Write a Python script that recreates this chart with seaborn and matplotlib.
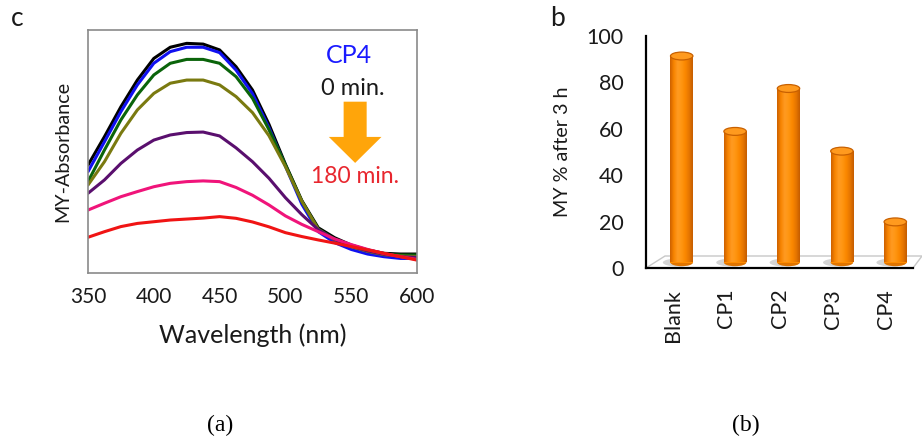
import numpy as np
import pandas as pd
import matplotlib
matplotlib.use("Agg")
import matplotlib.pyplot as plt
import matplotlib.transforms as mtransforms
from matplotlib.patches import Ellipse, Polygon, FancyArrow
from matplotlib.colors import LinearSegmentedColormap
import seaborn as sns

# ---------------- data ----------------
wavelength = [350, 362.5, 375, 387.5, 400, 412.5, 425, 437.5, 450, 462.5, 475,
              487.5, 500, 512.5, 525, 537.5, 550, 562.5, 575, 587.5, 600]
abs_0min = [0.444, 0.561, 0.684, 0.794, 0.883, 0.929, 0.945, 0.942, 0.918, 0.849, 0.753,
            0.612, 0.448, 0.298, 0.186, 0.145, 0.115, 0.095, 0.081, 0.078, 0.078]
abs_t2 = [0.417, 0.540, 0.664, 0.774, 0.863, 0.911, 0.929, 0.929, 0.907, 0.835, 0.738,
          0.598, 0.440, 0.283, 0.170, 0.125, 0.097, 0.078, 0.067, 0.060, 0.060]
abs_t3 = [0.376, 0.506, 0.630, 0.733, 0.815, 0.863, 0.879, 0.879, 0.863, 0.808, 0.719,
          0.590, 0.445, 0.295, 0.181, 0.139, 0.111, 0.092, 0.078, 0.074, 0.074]
abs_t4 = [0.362, 0.458, 0.575, 0.671, 0.739, 0.781, 0.794, 0.794, 0.774, 0.726, 0.660,
          0.565, 0.438, 0.295, 0.179, 0.136, 0.108, 0.089, 0.075, 0.070, 0.067]
abs_t5 = [0.328, 0.383, 0.451, 0.506, 0.547, 0.568, 0.578, 0.580, 0.564, 0.515, 0.458,
          0.390, 0.310, 0.240, 0.178, 0.138, 0.110, 0.091, 0.077, 0.067, 0.064]
abs_t6 = [0.259, 0.287, 0.314, 0.335, 0.355, 0.369, 0.376, 0.379, 0.376, 0.352, 0.320,
          0.280, 0.235, 0.200, 0.170, 0.140, 0.117, 0.097, 0.080, 0.067, 0.056]
abs_180min = [0.147, 0.170, 0.191, 0.204, 0.211, 0.218, 0.222, 0.226, 0.232, 0.225, 0.210,
              0.190, 0.166, 0.150, 0.136, 0.123, 0.109, 0.095, 0.081, 0.067, 0.053]
series_names = ["0 min", "t2", "t3", "t4", "t5", "t6", "180 min"]
series_values = [abs_0min, abs_t2, abs_t3, abs_t4, abs_t5, abs_t6, abs_180min]
series_colors = ["#000000", "#1010f0", "#0a640a", "#7a7a10", "#5a0f6e", "#f0147a", "#f01414"]

categories = ["Blank", "CP1", "CP2", "CP3", "CP4"]
my_percent = [89, 56.5, 75, 48, 17.5]

# ---------------- figure ----------------
W, H = 922, 446
fig = plt.figure(figsize=(W / 100, H / 100), dpi=100)
sns.set_style("white")
plt.rcParams["font.family"] = ["Lato", "DejaVu Sans"]

def rect(x0, y0, x1, y1):
    return [x0 / W, 1 - y1 / H, (x1 - x0) / W, (y1 - y0) / H]

# ---------------- left panel: spectra ----------------
ax1 = fig.add_axes(rect(88, 30, 417, 273))
df = pd.DataFrame({
    "Wavelength": np.tile(wavelength, len(series_names)),
    "Absorbance": np.concatenate(series_values),
    "Time": np.repeat(series_names, len(wavelength)),
})
sns.lineplot(data=df, x="Wavelength", y="Absorbance", hue="Time",
             hue_order=series_names, palette=series_colors, linewidth=2.2,
             legend=False, ax=ax1)
for ln in ax1.lines:
    ln.set_solid_joinstyle("round")
    ln.set_solid_capstyle("round")
ax1.set_xlim(350, 600)
ax1.set_ylim(0, 1)
ax1.set_xticks([350, 400, 450, 500, 550, 600])
ax1.set_xticks([375, 425, 475, 525, 575], minor=True)
ax1.set_yticks([])
ax1.tick_params(axis="x", which="both", direction="out", length=5, width=1,
                color="#808080", labelsize=15, labelcolor="#1a1a1a", pad=5)
for s in ax1.spines.values():
    s.set_color("#8a8a8a")
    s.set_linewidth(1.2)
ax1.set_xlabel("Wavelength (nm)", fontsize=18, color="#1a1a1a", labelpad=12)
ax1.set_ylabel("MY-Absorbance", fontsize=14.2, color="#1a1a1a", labelpad=12)

ax1.text(548, 0.897, "CP4", color="#1a1aff", fontsize=18, ha="center", va="center")
ax1.text(551, 0.761, "0 min.", color="#1a1a1a", fontsize=17, ha="center", va="center")
ax1.text(553, 0.399, "180 min.", color="#e8262e", fontsize=16.5, ha="center", va="center")
ax1.add_patch(FancyArrow(553, 0.705, 0, -0.252, width=17.5, head_width=40,
                         head_length=0.107, length_includes_head=True,
                         color="#ffa50a", lw=0))

# ---------------- right panel: cylinder bars ----------------
ax2 = fig.add_axes(rect(646, 36, 913, 268))
sns.barplot(x=categories, y=my_percent, color="#ff8c00", width=0.42, ax=ax2,
            saturation=1)
ax2.set_xlim(-0.5, 4.5)
ax2.set_ylim(0, 100)

# floor of the 3-D chart (axes-fraction decoration)
floor = Polygon([(0, 0), (19 / 267, 12 / 232), (1 + 9 / 267, 12 / 232), (1, 0)],
                closed=True, transform=ax2.transAxes, facecolor="white",
                edgecolor="#c8c8c8", lw=1.0, clip_on=False, zorder=0.5)
ax2.add_patch(floor)

shift = mtransforms.ScaledTranslation(9 / 100, 5.5 / 100, fig.dpi_scale_trans)
tr = ax2.transData + shift
cyl = LinearSegmentedColormap.from_list(
    "cyl", ["#cc6000", "#f88400", "#ff9a22", "#ff9612", "#fb8800", "#e67600", "#c45c00"])
grad = np.linspace(0, 1, 128)[None, :]
bars = [p for p in ax2.patches if p is not floor]
for p in bars:
    x0, w, h = p.get_x(), p.get_width(), p.get_height()
    p.set_transform(tr)
    p.set_zorder(2)
    p.set_edgecolor("none")
    # floor shadow
    ax2.add_patch(Ellipse((x0 + w / 2 - 0.07, 0), w * 1.35, 3.4, transform=tr,
                          facecolor="#a0a0a0", alpha=0.45, lw=0, zorder=1.5,
                          clip_on=False))
    # base rounding
    ax2.add_patch(Ellipse((x0 + w / 2, 0), w, 3.2, transform=tr,
                          facecolor="#e07400", lw=0, zorder=1.9, clip_on=False))
    im = ax2.imshow(grad, extent=(x0, x0 + w, 0, h), aspect="auto", cmap=cyl,
                    transform=tr, zorder=2.1, interpolation="bilinear")
    im.set_clip_path(p)
    p.set_clip_on(False)
    # top cap
    ax2.add_patch(Ellipse((x0 + w / 2, h), w, 3.4, transform=tr,
                          facecolor="#ff9a1e", edgecolor="#c86000", lw=0.9,
                          zorder=3, clip_on=False))
ax2.set_xlim(-0.5, 4.5)
ax2.set_ylim(0, 100)

sns.despine(ax=ax2)
for s in ("left", "bottom"):
    ax2.spines[s].set_color("#000000")
    ax2.spines[s].set_linewidth(1.6)
    ax2.spines[s].set_zorder(4)
ax2.set_yticks([0, 20, 40, 60, 80, 100])
ax2.set_xticks(range(len(categories)))
ax2.set_xticklabels(categories, rotation=90, va="top", ha="center")
ax2.set_xticks([-0.5, 0.5, 1.5, 2.5, 3.5, 4.5], minor=True)
ax2.tick_params(axis="y", direction="out", length=8, width=1.6, color="#000000",
                labelsize=15.5, labelcolor="#1a1a1a", pad=8)
ax2.tick_params(axis="x", which="major", length=0, labelsize=15.5,
                labelcolor="#1a1a1a", pad=15)
ax2.tick_params(axis="x", which="minor", direction="out", length=8, width=1.6,
                color="#000000")
ax2.set_ylabel("MY % after 3 h", fontsize=14.2, color="#1a1a1a", labelpad=11)
ax2.set_xlabel("")

# ---------------- panel letters & captions ----------------
fig.text(17 / W, 1 - 18 / H, "c", fontsize=19, ha="center", va="center", color="#1a1a1a")
fig.text(557 / W, 1 - 18 / H, "b", fontsize=19, ha="center", va="center", color="#1a1a1a")
fig.text(220 / W, 1 - 425 / H, "(a)", fontsize=17, ha="center", va="center",
         family="Liberation Serif", color="#000000")
fig.text(746 / W, 1 - 425 / H, "(b)", fontsize=17, ha="center", va="center",
         family="Liberation Serif", color="#000000")

fig.savefig("out.png", dpi=100, facecolor="white")
